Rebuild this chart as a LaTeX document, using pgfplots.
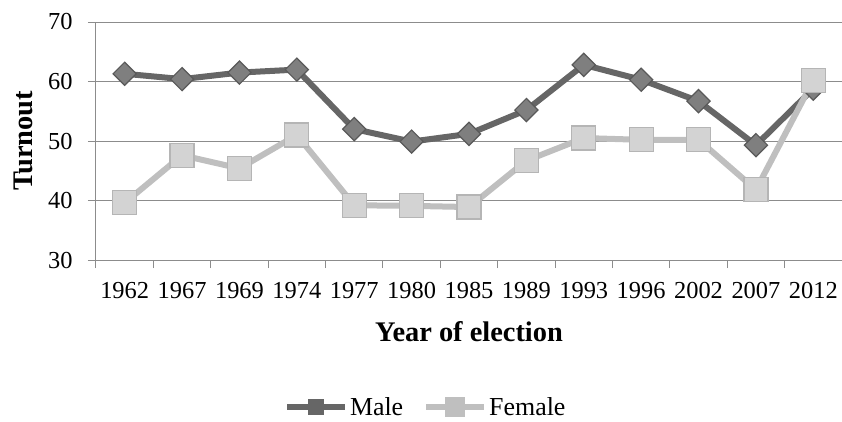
\documentclass[border=0pt]{standalone}
\usepackage{fontspec}
\setmainfont{Liberation Serif}
\usepackage{pgfplots}
\pgfplotsset{compat=1.18}
\definecolor{maleline}{HTML}{666666}
\definecolor{malefill}{HTML}{7F7F7F}
\definecolor{maleedge}{HTML}{595959}
\definecolor{femline}{HTML}{BFBFBF}
\definecolor{femfill}{HTML}{D3D3D3}
\definecolor{femedge}{HTML}{B5B5B5}
\definecolor{axgray}{HTML}{8C8C8C}
\begin{document}
\begin{tikzpicture}[x=1bp,y=1bp]
\path[use as bounding box] (-96,-161) rectangle (746,260);
\begin{axis}[
  at={(0,0)}, anchor=south west,
  scale only axis, width=746bp, height=238bp,
  xmin=-0.5, xmax=12.5, ymin=30, ymax=70,
  axis x line*=bottom, axis y line*=left,
  axis line style={draw=axgray, line width=1bp, -},
  ytick={30,40,50,60,70},
  ymajorgrids, grid style={draw=axgray, line width=1bp},
  xtick={-0.5,0.5,1.5,2.5,3.5,4.5,5.5,6.5,7.5,8.5,9.5,10.5,11.5,12.5},
  xticklabels={,1962,1967,1969,1974,1977,1980,1985,1989,1993,1996,2002,2007,2012},
  xticklabel style={xshift=-28.7bp, yshift=-11bp},
  yticklabel style={xshift=-12bp},
  tick align=outside, major tick length=8bp,
  tick style={draw=axgray, line width=1bp},
  /pgf/number format/assume math mode=true,
  ticklabel style={font=\fontsize{24.5}{27}\selectfont},
  xlabel={Year of election},
  ylabel={Turnout},
  label style={font=\fontsize{28.5}{32}\selectfont\bfseries},
  xlabel style={at={(0.5,-0.3)}, anchor=center},
  ylabel style={at={(-0.098,0.5)}, anchor=center},
  legend columns=2,
  legend style={at={(0.442,-0.617)}, anchor=center, draw=none, fill=none,
    font=\fontsize{26}{30}\selectfont, inner sep=0bp,
    /tikz/every even column/.append style={column sep=18bp},
    nodes={inner sep=2bp}},
  legend image code/.code={
    \draw[#1, mark repeat=2, mark phase=2, mark options={scale=0.58}]
      plot coordinates {(0bp,0bp) (29bp,0bp) (58bp,0bp)};
  },
]
\addplot[color=maleline, line width=6bp, mark=square*,
  mark size=8.2bp, mark options={rotate=45, fill=malefill, draw=maleedge, line width=1.2bp}]
  coordinates {(0,61.3) (1,60.4) (2,61.5) (3,62.0) (4,52.0) (5,49.9) (6,51.2)
   (7,55.2) (8,62.8) (9,60.3) (10,56.7) (11,49.3) (12,58.8)};
\addlegendentry{Male}
\addplot[color=femline, line width=6bp, mark=square*,
  mark size=12bp, mark options={fill=femfill, draw=femedge, line width=1.2bp}]
  coordinates {(0,39.6) (1,47.6) (2,45.4) (3,51.0) (4,39.2) (5,39.1) (6,38.9)
   (7,46.7) (8,50.5) (9,50.2) (10,50.2) (11,41.8) (12,60.2)};
\addlegendentry{Female}
\end{axis}
\end{tikzpicture}
\end{document}
